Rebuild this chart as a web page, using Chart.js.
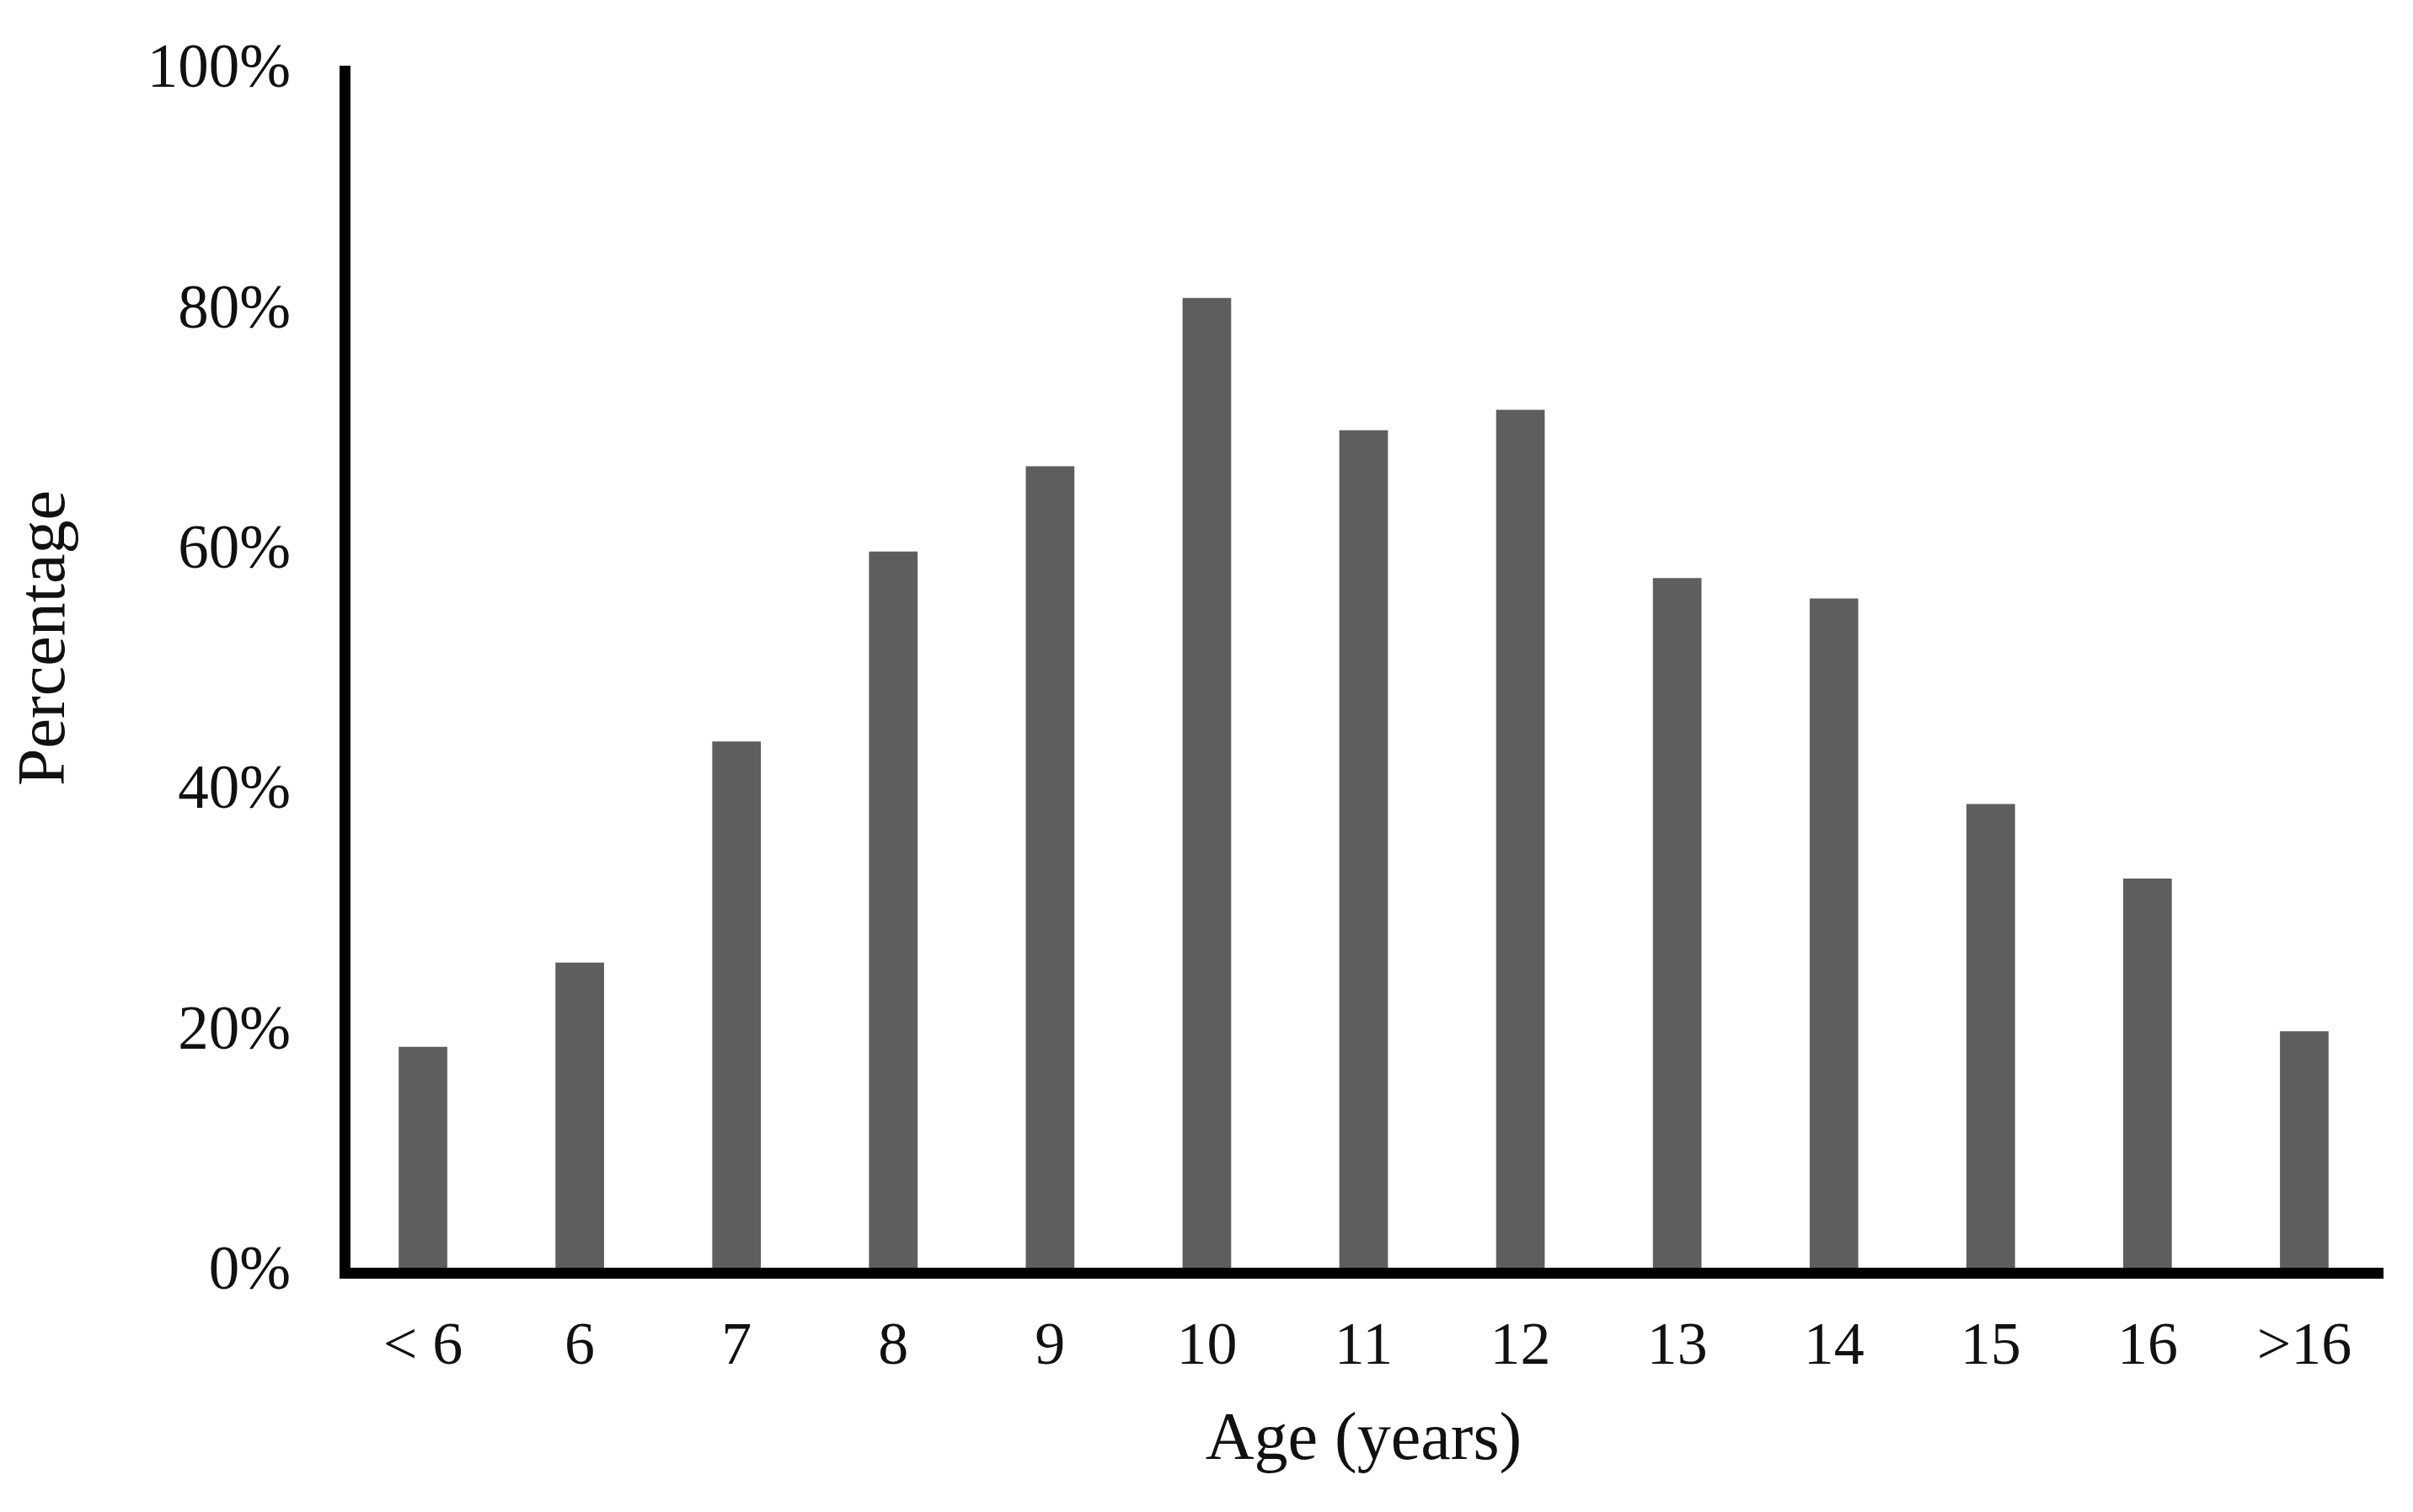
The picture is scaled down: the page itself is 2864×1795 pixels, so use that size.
<!DOCTYPE html>
<html>
<head>
<meta charset="utf-8">
<script src="https://cdn.jsdelivr.net/npm/chart.js@4/dist/chart.umd.min.js"></script>
<style>
  html, body { margin: 0; padding: 0; background: #ffffff; }
  #wrap { width: 2864px; height: 1795px; position: relative; }
</style>
</head>
<body>
<div id="wrap"><canvas id="c" width="2864" height="1795"></canvas></div>
<script>
const categories = ["< 6", "6", "7", "8", "9", "10", "11", "12", "13", "14", "15", "16", ">16"];
const percentages = [18.8, 25.8, 44.2, 60.0, 67.1, 81.1, 70.1, 71.8, 57.8, 56.1, 39.0, 32.8, 20.1];
const yTicks = [0, 20, 40, 60, 80, 100];
const xTitle = "Age (years)";
const yTitle = "Percentage";

const serif = "'Liberation Serif', 'Times New Roman', serif";
const ink = "#111111";

new Chart(document.getElementById('c'), {
  type: 'bar',
  data: {
    labels: categories,
    datasets: [{
      data: percentages,
      backgroundColor: '#5e5e5e',
      borderWidth: 0,
      barPercentage: 0.31,
      categoryPercentage: 1.0
    }]
  },
  options: {
    responsive: false,
    animation: false,
    devicePixelRatio: 1,
    layout: { padding: { top: 84, right: 36, bottom: 0, left: 0 } },
    plugins: { legend: { display: false }, tooltip: { enabled: false } },
    scales: {
      x: {
        offset: true,
        grid: { display: false, drawTicks: false },
        border: { display: true, color: '#000000', width: 13, z: 1 },
        ticks: {
          color: ink,
          padding: 46,
          font: { family: serif, size: 72 },
          maxRotation: 0,
          autoSkip: false
        },
        title: {
          display: true,
          text: xTitle,
          color: ink,
          font: { family: serif, size: 80 },
          padding: { top: 0, bottom: 36 }
        },
        afterFit: (scale) => {
          scale.height = 284;
          scale.paddingLeft = 0;
          scale.paddingRight = 0;
        }
      },
      y: {
        min: 0,
        max: 100,
        afterBuildTicks: (scale) => { scale.ticks = yTicks.map(v => ({ value: v })); },
        grid: { display: false, drawTicks: false },
        border: { display: true, color: '#000000', width: 13, z: 1 },
        ticks: {
          color: ink,
          padding: 64,
          font: { family: serif, size: 73 },
          callback: (v) => v + '%'
        },
        title: {
          display: true,
          text: '    ' + yTitle,
          color: ink,
          font: { family: serif, size: 80 },
          padding: { top: 7, bottom: 0 }
        },
        afterFit: (scale) => {
          scale.width = 409;
          scale.paddingTop = 0;
          scale.paddingBottom = 0;
        }
      }
    }
  }
});
</script>
</body>
</html>
